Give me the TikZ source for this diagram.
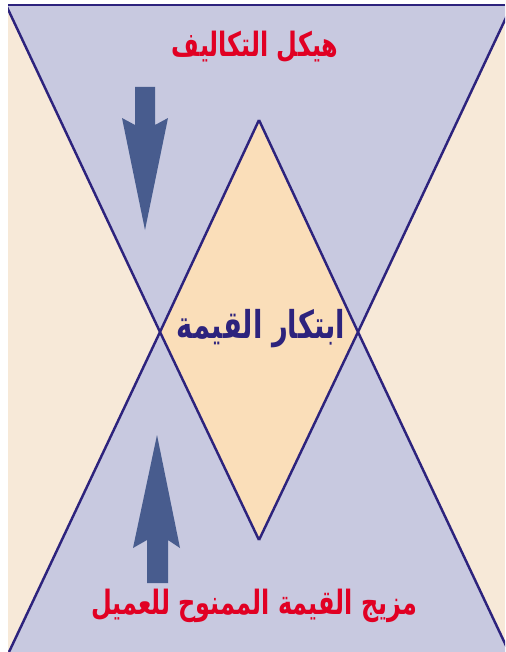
\documentclass[tikz,border=0pt]{standalone}
\usepackage{fontspec}
\TeXXeTstate=1
\newfontfamily\arabicfont[Script=Arabic]{DejaVu Sans}
% tall heavy lettering
\newcommand{\tallar}[1]{\scalebox{1}[1.4]{\beginR #1\endR}}

\begin{document}
\begin{tikzpicture}[x=0.02cm, y=-0.02cm, line join=miter]
  % colours
  \definecolor{sidebg}{RGB}{247,233,216}
  \definecolor{lavender}{RGB}{200,201,224}
  \definecolor{peach}{RGB}{250,222,185}
  \definecolor{edge}{RGB}{45,35,125}
  \definecolor{arrowblue}{RGB}{72,92,142}
  \definecolor{labelred}{RGB}{225,0,35}
  \tikzset{
    edgeline/.style={draw=edge, line width=1.4pt},
    redlabel/.style={text=labelred, font=\arabicfont\bfseries\fontsize{13.6}{16}\selectfont},
    midlabel/.style={text=edge, font=\arabicfont\bfseries\fontsize{15.6}{18}\selectfont},
    fatarrow/.style={fill=arrowblue}
  }
  \useasboundingbox (0,0) rectangle (505,652);

  % the four points of the diamond and the ends of the cross lines
  \coordinate (top) at (259,120);
  \coordinate (bot) at (259,540);
  \coordinate (lx) at (160,332);
  \coordinate (rx) at (358,332);
  \coordinate (nw) at (6,5);
  \coordinate (ne) at (512,5);
  \coordinate (sw) at (9,652);
  \coordinate (se) at (509,652);

  \begin{scope}
    \clip (8,5) rectangle (505,652);
    % textured sides (flat)
    \fill[sidebg] (8,5) rectangle (505,652);
    % upper and lower bands
    \fill[lavender] (nw) -- (ne) -- (rx) -- (top) -- (lx) -- cycle;
    \fill[lavender] (sw) -- (lx) -- (bot) -- (rx) -- (se) -- cycle;
    % diamond
    \fill[peach] (top) -- (rx) -- (bot) -- (lx) -- cycle;
    % cross lines
    \draw[edgeline] (nw) -- (lx) -- (bot);
    \draw[edgeline] (sw) -- (lx) -- (top);
    \draw[edgeline] (ne) -- (rx) -- (bot);
    \draw[edgeline] (se) -- (rx) -- (top);
    \draw[edgeline] (8,5) -- (505,5);
  \end{scope}

  % arrows
  \fill[fatarrow] (135,87) -- (155,87) -- (155,125) -- (168,118) -- (145,230)
    -- (122,118) -- (135,125) -- cycle;
  \fill[fatarrow] (157,435) -- (180,548) -- (168,540) -- (168,583) -- (147,583)
    -- (147,540) -- (133,548) -- cycle;

  % labels
  \node[redlabel] (costs) at (255,47) {\tallar{هيكل التكاليف}};
  \node[midlabel] (value) at (261,329) {\tallar{ابتكار القيمة}};
  \node[redlabel] (offer) at (254,606) {\tallar{مزيج القيمة الممنوح للعميل}};

\end{tikzpicture}
\end{document}
